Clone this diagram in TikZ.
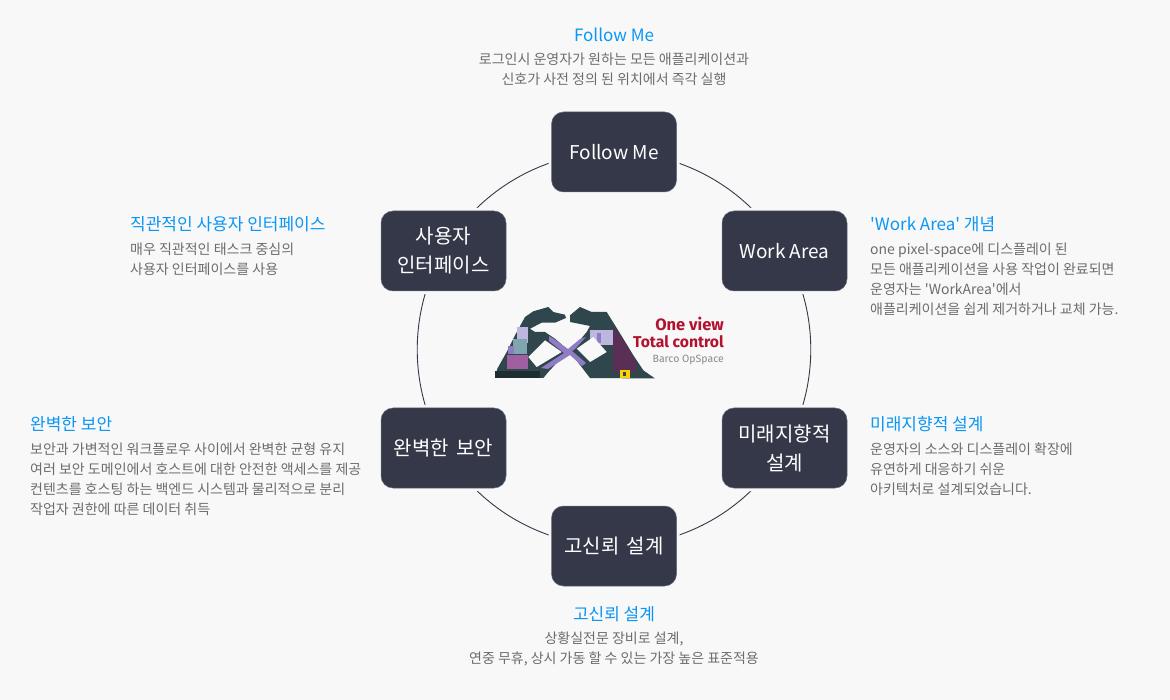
\documentclass[tikz,border=0pt]{standalone}
\usepackage{fontspec}
\setmainfont{Noto Sans CJK KR}[Ligatures=TeXOff]
\newfontfamily\logofont{Fira Sans}
\definecolor{pagebg}{HTML}{F8F8F8}
\definecolor{boxfill}{HTML}{353849}
\definecolor{headblue}{HTML}{0A96F5}
\definecolor{bodygrey}{HTML}{6C6C6C}
\definecolor{handdark}{HTML}{2F474C}
\definecolor{handbase}{HTML}{1E2E30}
\definecolor{handlav}{HTML}{8F7CC4}
\definecolor{handpale}{HTML}{BDB7E0}
\definecolor{handteal}{HTML}{7FA6AE}
\definecolor{handplum}{HTML}{5A2F55}
\definecolor{handpink}{HTML}{A05FA0}
\definecolor{logored}{HTML}{B3122F}
\definecolor{logogrey}{HTML}{8A8A8A}
\pgfdeclarelayer{ringlayer}
\pgfsetlayers{ringlayer,main}
\tikzset{
  hubbox/.style={preaction={draw=pagebg,line width=6pt},draw=boxfill!75!white,line width=.5pt,fill=boxfill,text=white,rounded corners=12pt,minimum width=125pt,minimum height=80pt,inner sep=0pt,align=center,font=\fontsize{20}{29}\selectfont},
  heading/.style={text=headblue,inner sep=0pt,font=\fontsize{17}{20}\selectfont},
  blurb/.style={text=bodygrey,inner sep=0pt,font=\fontsize{14}{20}\selectfont},
  ringarc/.style={draw=boxfill,line width=.9pt,bend left=30,looseness=.912},
  latinhub/.style={font=\fontsize{19}{29}\selectfont},
}
\begin{document}
\begin{tikzpicture}[x=1pt,y=-1pt]
\begin{pgfonlayer}{ringlayer}
\useasboundingbox[fill=pagebg] (0,0) rectangle (1170,700);
\end{pgfonlayer}
% hubs
\node[hubbox,latinhub] (follow) at (614,152) {\raisebox{-.7pt}{Follow Me}};
\node[hubbox,latinhub] (work) at (784.5,251) {\raisebox{-.7pt}{Work Area}};
\node[hubbox] (future) at (784.5,448) {\raisebox{-1pt}{미래지향적}\\\raisebox{-1pt}{설계}};
\node[hubbox] (trust) at (614,546) {고신뢰\kern3pt{} 설계};
\node[hubbox] (secure) at (443.5,448) {완벽한\kern3pt{} 보안};
\node[hubbox] (ui) at (443.5,251) {\raisebox{-1pt}{사용자}\\\raisebox{-1pt}{인터페이스}};
% ring
\begin{pgfonlayer}{ringlayer}
\draw[ringarc] (follow.center) to (work.center);
\draw[ringarc] (work.center) to (future.center);
\draw[ringarc] (future.center) to (trust.center);
\draw[ringarc] (trust.center) to (secure.center);
\draw[ringarc] (secure.center) to (ui.center);
\draw[ringarc] (ui.center) to (follow.center);
\end{pgfonlayer}
% descriptions
\node[heading] (h1) at (614,34.5) {Follow Me};
\node[blurb,align=center] (b1) at (614,69) {로그인시 운영자가 원하는 모든 애플리케이션과\\신호가 사전 정의 된 위치에서 즉각 실행};
\node[heading,anchor=west] (h2) at (870,224.5) {'Work Area' 개념};
\node[blurb,align=left,anchor=west] (b2) at (870,279) {one pixel-space에 디스플레이 된\\모든 애플리케이션을 사용 작업이 완료되면\\운영자는 'WorkArea'에서\\애플리케이션을 쉽게 제거하거나 교체 가능.};
\node[heading,anchor=west] (h3) at (870,424.5) {미래지향적 설계};
\node[blurb,align=left,anchor=west] (b3) at (870,469) {운영자의 소스와 디스플레이 확장에\\유연하게 대응하기 쉬운\\아키텍처로 설계되었습니다.};
\node[heading] (h4) at (614,614.5) {고신뢰 설계};
\node[blurb,align=center] (b4) at (614,649) {상황실전문 장비로 설계,\\연중 무휴, 상시 가동 할 수 있는 가장 높은 표준적용};
\node[heading,anchor=west] (h5) at (30,424.5) {완벽한 보안};
\node[blurb,align=left,anchor=west] (b5) at (30,479) {보안과 가변적인 워크플로우 사이에서 완벽한 균형 유지\\여러 보안 도메인에서 호스트에 대한 안전한 액세스를 제공\\컨텐츠를 호스팅 하는 백엔드 시스템과 물리적으로 분리\\작업자 권한에 따른 데이터 취득};
\node[heading,anchor=west] (h6) at (130,224.5) {직관적인 사용자 인터페이스};
\node[blurb,align=left,anchor=west] (b6) at (130,259) {매우 직관적인 태스크 중심의\\사용자 인터페이스를 사용};
% logo artwork: left hand
\fill[handdark] (495,378) -- (497.3,368.7) -- (506.7,352) -- (515,335.3) -- (525,317) -- (533.3,311.3) -- (548.3,307) -- (553.3,312) -- (565,314.7) -- (566,318) -- (555,322.7) -- (541.7,322.7) -- (530,328.7) -- (535,332) -- (545,332) -- (555,338.7) -- (568.3,350.3) -- (548.3,372) -- (543.3,378) -- cycle;
\fill[handpale] (516.7,327) rectangle (528.3,343);
\fill[handteal] (513,339) rectangle (527,353.7);
\fill[handpink] (506.7,355) rectangle (528.3,368.7);
\fill[handlav] (508,346) rectangle (514,354);
\fill[handbase] (495,371) rectangle (540,378);
% logo artwork: right hand
\fill[handdark] (570,315.3) -- (580,307) -- (591.7,312) -- (606.7,312) -- (615,325.3) -- (623.3,338.7) -- (633.3,355.3) -- (643.3,370.3) -- (655,378.5) -- (590,378) -- (570,352) -- (586.7,332) -- (590,326) -- (570,322) -- cycle;
\fill[handpale] (590,330) rectangle (613,345);
\fill[handlav] (597,333) rectangle (601,343);
\fill[handplum] (613,326) -- (623.3,340) -- (633.3,356) -- (636,362) -- (636,372) -- (613,372) -- cycle;
\fill[yellow!70!orange] (620,370) rectangle (630,378);
\fill[handdark] (623,372) rectangle (626,376);
% logo artwork: hollows and crossing strips
\fill[pagebg] (528.3,357) -- (545,340.3) -- (561.7,352) -- (536.7,367) -- cycle;
\fill[pagebg] (576.7,348.7) -- (593.3,337) -- (606.7,352) -- (590,362) -- cycle;
\fill[handlav] (549,336) -- (554,339) -- (568,349) -- (580,339) -- (586,337) -- (575,349) -- (572,351) -- (586,363) -- (582,366) -- (570,355) -- (548,369) -- (541,368) -- (564,353) -- (549,341) -- cycle;
% logo text
\node[anchor=east,inner sep=0pt,text=logored,font=\logofont\bfseries\fontsize{16.5}{16}\selectfont] (logo1) at (724,324) {One view};
\node[anchor=east,inner sep=0pt,text=logored,font=\logofont\bfseries\fontsize{15.7}{16}\selectfont] (logo2) at (724,342) {Total control};
\node[anchor=east,inner sep=0pt,text=logogrey,font=\logofont\fontsize{10.5}{10.5}\selectfont] (logo3) at (724,359.5) {Barco OpSpace};
\end{tikzpicture}
\end{document}
